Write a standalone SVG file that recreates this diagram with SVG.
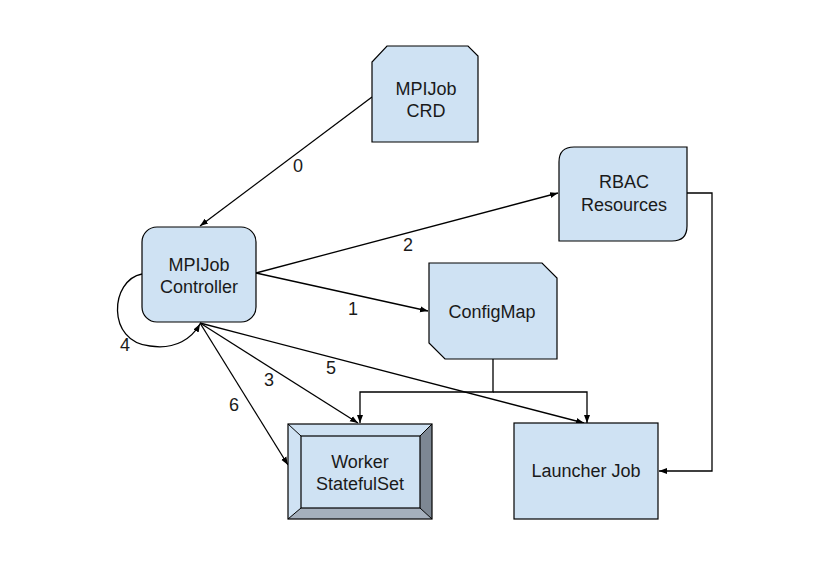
<svg xmlns="http://www.w3.org/2000/svg" width="824" height="566" viewBox="0 0 824 566">
<style>
.node{fill:#cfe2f3;stroke:#000;stroke-width:1.2}
.t{font-family:"Liberation Sans",Arial,sans-serif;font-size:18px;fill:#1a1a1a;text-anchor:middle}
.c{fill:none;stroke:#000;stroke-width:1.3}
</style>
<defs>
<marker id="ah" markerUnits="userSpaceOnUse" markerWidth="10" markerHeight="8" refX="8" refY="4" orient="auto">
<path d="M0,1 L8,4 L0,7 Z" fill="#000"/>
</marker>
</defs>
<rect width="824" height="566" fill="#fff"/>
<g id="connectors">
<path class="c" d="M372,97 L200,226" marker-end="url(#ah)"/>
<path class="c" d="M256,273 L558,193" marker-end="url(#ah)"/>
<path class="c" d="M256,273 L428,311" marker-end="url(#ah)"/>
<path class="c" d="M142,274 C110,280 106,342 150,346 C176,350 192,338 200,324" marker-end="url(#ah)"/>
<path class="c" d="M200,323 L358,423" marker-end="url(#ah)"/>
<path class="c" d="M200,323 L584,423" marker-end="url(#ah)"/>
<path class="c" d="M200,323 L288,465" marker-end="url(#ah)"/>
<path class="c" d="M493,359 L493,392 L360,392 L360,423" marker-end="url(#ah)"/>
<path class="c" d="M493,392 L587,392 L587,423" marker-end="url(#ah)"/>
<path class="c" d="M687,193 L712,193 L712,471 L659,471" marker-end="url(#ah)"/>
<text class="t" x="298" y="172">0</text>
<text class="t" x="408" y="251">2</text>
<text class="t" x="353" y="315">1</text>
<text class="t" x="269" y="386">3</text>
<text class="t" x="331" y="374">5</text>
<text class="t" x="234" y="411">6</text>
<text class="t" x="125" y="351">4</text>
</g>
<g id="crd">
<path class="node" d="M387,46 L468,46 L478,56 L478,142 L372,142 L372,62 Z"/>
<text class="t" x="426" y="95">MPIJob</text>
<text class="t" x="426" y="117">CRD</text>
</g>
<g id="controller">
<rect class="node" x="142" y="227" width="114" height="95" rx="15" ry="15"/>
<text class="t" x="199" y="271">MPIJob</text>
<text class="t" x="199" y="293">Controller</text>
</g>
<g id="rbac">
<path class="node" d="M574,147 L687,147 L687,226 Q687,241 672,241 L559,241 L559,162 Q559,147 574,147 Z"/>
<text class="t" x="624" y="188">RBAC</text>
<text class="t" x="624" y="211">Resources</text>
</g>
<g id="configmap">
<path class="node" d="M429,263 L542,263 L557,278 L557,359 L445,359 L429,343 Z"/>
<text class="t" x="492" y="318">ConfigMap</text>
</g>
<g id="worker">
<rect x="288" y="424" width="144" height="95" fill="#cfe2f3"/>
<path d="M420,436 L432,424 L432,519 L420,508 Z" fill="#7d8793"/>
<path d="M301,508 L420,508 L432,519 L288,519 Z" fill="#a5b0bd"/>
<rect x="288" y="424" width="144" height="95" fill="none" stroke="#000" stroke-width="1.2"/>
<rect x="301" y="436" width="119" height="72" fill="none" stroke="#000" stroke-width="1.2"/>
<path d="M288,424 L301,436 M432,424 L420,436 M288,519 L301,508 M432,519 L420,508" stroke="#000" stroke-width="1"/>
<text class="t" x="360" y="468">Worker</text>
<text class="t" x="360" y="490">StatefulSet</text>
</g>
<g id="launcher">
<rect class="node" x="514" y="423" width="144" height="96"/>
<text class="t" x="586" y="477">Launcher Job</text>
</g>
</svg>
